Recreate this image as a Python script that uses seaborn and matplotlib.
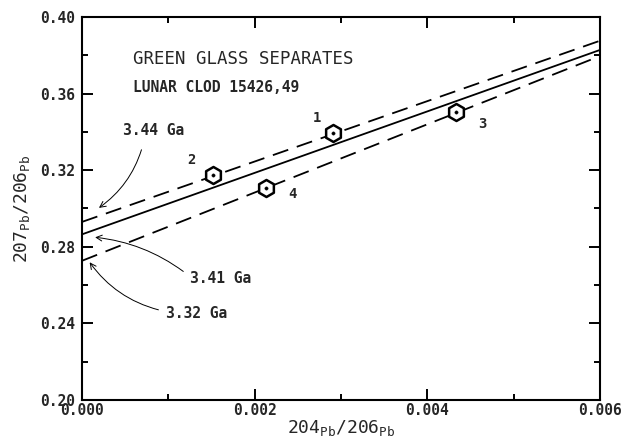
import matplotlib
matplotlib.use("Agg")
import matplotlib.pyplot as plt
import seaborn as sns
import pandas as pd
from matplotlib.ticker import MultipleLocator, FormatStrFormatter

# ---- data ----
sample_ids = ["1", "2", "3", "4"]
x_204_206 = [0.00291, 0.00152, 0.00433, 0.00213]
y_207_206 = [0.3394, 0.3175, 0.3505, 0.3109]

line_x = [0.0, 0.006]
line_341 = [0.2865, 0.3828]   # 3.41 Ga (solid)
line_344 = [0.2930, 0.3876]   # 3.44 Ga (dashed, upper)
line_332 = [0.2727, 0.3796]   # 3.32 Ga (dashed, lower)

age_labels = ["3.44 Ga", "3.41 Ga", "3.32 Ga"]
title_lines = ["GREEN GLASS SEPARATES", "LUNAR CLOD 15426,49"]

pts = pd.DataFrame({"id": sample_ids, "x": x_204_206, "y": y_207_206})
lines = pd.DataFrame({
    "x": line_x * 3,
    "y": line_341 + line_344 + line_332,
    "age": [age_labels[1]] * 2 + [age_labels[0]] * 2 + [age_labels[2]] * 2,
})

sns.set_theme(style="ticks")
plt.rcParams["font.family"] = ["DejaVu Sans Mono", "DejaVu Sans"]
plt.rcParams["mathtext.fontset"] = "custom"
plt.rcParams["mathtext.rm"] = "DejaVu Sans Mono"

fig = plt.figure(figsize=(6.29, 4.43), dpi=100)
ax = fig.add_axes([82 / 629, 1 - 400 / 443, (600 - 82) / 629, (400 - 17) / 443])

sns.lineplot(data=lines, x="x", y="y", style="age",
             dashes={age_labels[1]: "", age_labels[0]: (9, 5), age_labels[2]: (9, 5)},
             color="black", linewidth=1.3, legend=False, ax=ax)

sns.scatterplot(data=pts, x="x", y="y", marker="h", s=150,
                facecolor="white", edgecolor="black", linewidth=1.8,
                legend=False, ax=ax, zorder=5)
sns.scatterplot(data=pts, x="x", y="y", marker="o", s=6,
                color="black", edgecolor="black", legend=False, ax=ax, zorder=6)

# point labels (offsets in points)
offsets = {"1": (-11.5, 11), "2": (-16, 11), "3": (19, -9), "4": (19, -4.5)}
for sid, xv, yv in zip(sample_ids, x_204_206, y_207_206):
    ax.annotate(sid, (xv, yv), xytext=offsets[sid], textcoords="offset points",
                fontsize=10, fontweight="bold", ha="center", va="center")

ax.set_xlim(0, 0.006)
ax.set_ylim(0.20, 0.40)
ax.xaxis.set_major_locator(MultipleLocator(0.002))
ax.xaxis.set_minor_locator(MultipleLocator(0.001))
ax.yaxis.set_major_locator(MultipleLocator(0.04))
ax.yaxis.set_minor_locator(MultipleLocator(0.02))
ax.xaxis.set_major_formatter(FormatStrFormatter("%.3f"))
ax.yaxis.set_major_formatter(FormatStrFormatter("%.2f"))

ax.tick_params(which="both", direction="in", top=True, right=True, width=1.4,
               labelsize=10.5, color="black")
ax.tick_params(axis="x", pad=2)
ax.tick_params(axis="y", pad=5)
ax.tick_params(which="major", length=8)
ax.tick_params(which="minor", length=4.5)
for lab in ax.get_xticklabels() + ax.get_yticklabels():
    lab.set_fontweight("bold")
for sp in ax.spines.values():
    sp.set_visible(True)
    sp.set_linewidth(1.5)
    sp.set_color("black")

ax.set_xlabel(r"204$_{\mathrm{Pb}}$/206$_{\mathrm{Pb}}$", fontsize=13, labelpad=0)
ax.set_ylabel(r"207$_{\mathrm{Pb}}$/206$_{\mathrm{Pb}}$", fontsize=13, labelpad=6)

ax.text(0.098, 0.890, title_lines[0], transform=ax.transAxes, fontsize=12.5,
        va="center", ha="left")
ax.text(0.098, 0.815, title_lines[1], transform=ax.transAxes, fontsize=10.5,
        va="center", ha="left", fontweight="bold")

arrow = dict(arrowstyle="->", color="black", lw=0.7)
ax.annotate(age_labels[0], xy=(0.00017, 0.2995), xytext=(0.000475, 0.3405),
            fontsize=10.5, fontweight="bold", ha="left", va="center",
            arrowprops=dict(connectionstyle="arc3,rad=-0.2", shrinkA=6,
                            relpos=(0.35, 0.0), **arrow))
ax.annotate(age_labels[1], xy=(0.00012, 0.2851), xytext=(0.00125, 0.2637),
            fontsize=10.5, fontweight="bold", ha="left", va="center",
            arrowprops=dict(connectionstyle="arc3,rad=0.15", shrinkA=3,
                            relpos=(0, 0.6), **arrow))
ax.annotate(age_labels[2], xy=(0.00007, 0.2731), xytext=(0.00097, 0.2454),
            fontsize=10.5, fontweight="bold", ha="left", va="center",
            arrowprops=dict(connectionstyle="arc3,rad=-0.2", shrinkA=3,
                            relpos=(0, 0.6), **arrow))

fig.savefig("out.png", dpi=100)
